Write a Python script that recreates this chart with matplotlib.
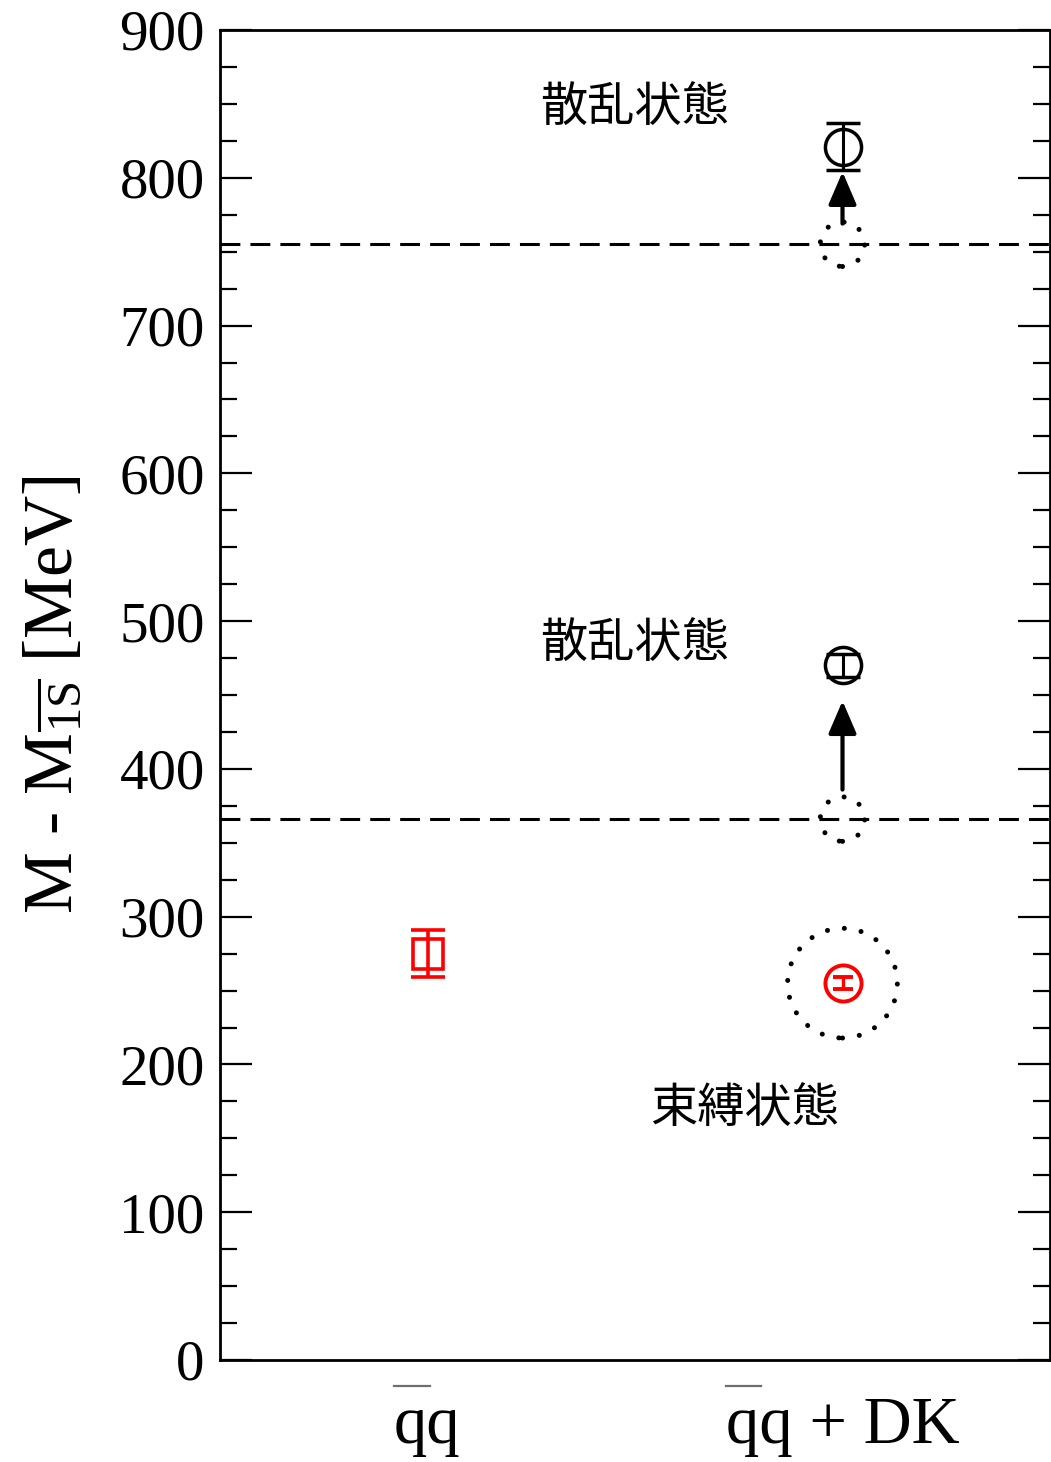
import numpy as np
import matplotlib
matplotlib.use('Agg')
import matplotlib.pyplot as plt
from matplotlib.ticker import MultipleLocator
from matplotlib.lines import Line2D

plt.rcParams['font.family'] = ['Liberation Serif', 'DejaVu Serif']
plt.rcParams['mathtext.fontset'] = 'custom'
plt.rcParams['mathtext.rm'] = 'Liberation Serif'
plt.rcParams['mathtext.it'] = 'Liberation Serif:italic'

# columns on the x axis (first q of each label carries an overbar)
column_x = [1, 3]
column_labels = ['qq', 'qq + DK']

# q-qbar only
qq_mass = [275]
qq_err = [16]

# q-qbar + DK: bound state
bound_mass = [255]
bound_err = [4]

# q-qbar + DK: scattering states and the DK thresholds they come from
scatter_mass = [470, 821]
scatter_err = [8, 16]
thresholds = [366, 755]
arrow_tail = [386, 769]
arrow_head = [446, 804]

state_labels = ['散乱状態', '散乱状態', '束縛状態']
state_label_x = [2.0, 2.0, 2.53]
state_label_y = [847, 484, 170]

fig = plt.figure(figsize=(10.51, 14.62), dpi=100)
ax = fig.add_axes([220/1051, 1-1360/1462, 830/1051, 1330/1462])

for t in thresholds:
    ax.axhline(t, color='black', lw=2.2, dashes=(6.5, 3.3), zorder=1)

# dotted rings
dot_style = [(0, (0.01, 3.4))]
ring = ax.scatter([column_x[1]] * len(thresholds), thresholds, s=32**2, facecolors='none',
                  edgecolors='black', linewidths=3.6, linestyles=dot_style, zorder=2)
ring.set_capstyle('round')
big = ax.scatter([column_x[1]], bound_mass, s=79**2, facecolors='none',
                 edgecolors='black', linewidths=3.6, linestyles=dot_style, zorder=2)
big.set_capstyle('round')

ax.errorbar([column_x[0]], qq_mass, yerr=qq_err, fmt='s', ms=21, mfc='none', mec='red',
            mew=2.6, color='red', elinewidth=2.6, capsize=12, capthick=2.6, zorder=3)
ax.errorbar([column_x[1]], bound_mass, yerr=bound_err, fmt='o', ms=26, mfc='none', mec='red',
            mew=2.8, color='red', elinewidth=2.4, capsize=7, capthick=2.4, zorder=3)
ax.errorbar([column_x[1]] * len(scatter_mass), scatter_mass, yerr=scatter_err, fmt='o', ms=26,
            mfc='none', mec='black', mew=2.5, color='black', elinewidth=2.2, capsize=12,
            capthick=2.2, zorder=3)

for a, b in zip(arrow_tail, arrow_head):
    ax.annotate('', xy=(column_x[1], b), xytext=(column_x[1], a),
                arrowprops=dict(arrowstyle='-|>,head_length=1.0,head_width=0.43',
                                mutation_scale=20, color='black', lw=3,
                                shrinkA=0, shrinkB=0))

for lx, ly, s in zip(state_label_x, state_label_y, state_labels):
    ax.text(lx, ly, s, ha='center', va='center', fontsize=34,
            family=['Noto Sans CJK JP', 'DejaVu Sans'])

ax.set_xlim(0, 4)
ax.set_ylim(0, 900)
ax.yaxis.set_major_locator(MultipleLocator(100))
ax.yaxis.set_minor_locator(MultipleLocator(25))
ax.set_xticks(column_x)
ax.set_xticklabels(column_labels, fontsize=48)
ax.tick_params(axis='x', length=0, pad=26)
ax.tick_params(axis='y', which='both', direction='in', left=True, right=True, width=1.6, labelsize=41, pad=11)
ax.tick_params(axis='y', which='major', length=23)
ax.tick_params(axis='y', which='minor', length=12)
for sp in ax.spines.values():
    sp.set_linewidth(2)

ax.set_ylabel(r'M - M$_{\overline{\mathrm{1S}}}$ [MeV]', fontsize=50, labelpad=24)

# overbar above the first q of each x label, placed from the rendered text
fig.canvas.draw()
renderer = fig.canvas.get_renderer()
probe = fig.text(0, 0, 'q', fontsize=48)
q_width = probe.get_window_extent(renderer).width
probe.remove()
for lab in ax.get_xticklabels():
    bb = lab.get_window_extent(renderer)
    y_bar = bb.y1 + 10
    fig.add_artist(Line2D([bb.x0, bb.x0 + q_width + 2], [y_bar, y_bar], transform=None,
                          color='#6e6e6e', lw=1.6))

fig.savefig('out.png', dpi=100)
